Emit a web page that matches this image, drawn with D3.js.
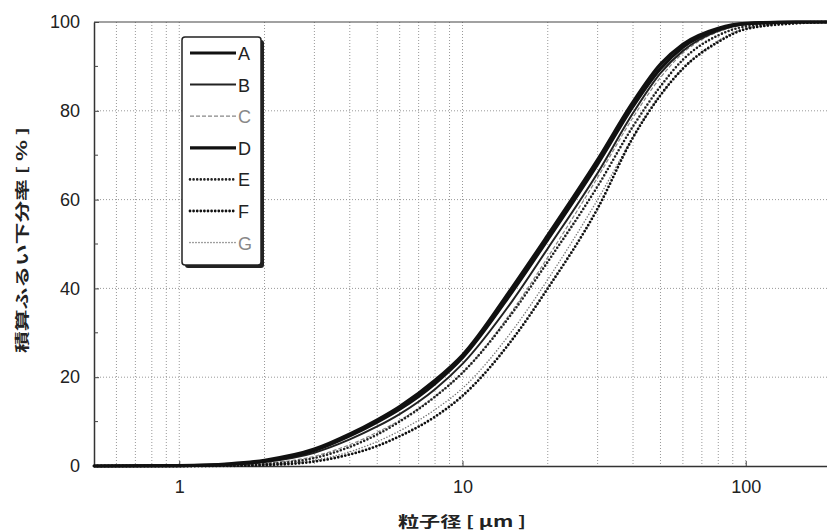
<!DOCTYPE html>
<html>
<head>
<meta charset="utf-8">
<script src="https://cdn.jsdelivr.net/npm/d3@7"></script>
<style>
  body { margin: 0; background: #fff; }
  svg { display: block; font-family: "Liberation Sans", Arial, sans-serif; }
</style>
</head>
<body>
<div id="chart"></div>
<script>
// Particle size (µm) and cumulative undersize (%)
const sizes = [0.5, 1, 1.5, 2, 3, 4, 5, 6, 8, 10, 15, 20, 30, 40, 50, 60, 80, 100, 150, 200];

const seriesA = [0, 0.1, 0.5, 1.3, 3.8, 7.2, 10.4, 13.4, 19.3, 25, 40.3, 52, 69, 82, 90.5, 95, 98.6, 99.7, 100, 100];
const seriesB = [0, 0.1, 0.3, 0.9, 3.0, 6.0, 8.9, 11.7, 17.3, 23, 37.2, 49, 66, 79.5, 88.5, 93.5, 98, 99.5, 100, 100];
const seriesC = [0, 0.05, 0.2, 0.6, 2.2, 4.8, 7.6, 10.3, 15.7, 21, 35, 47, 65, 78.5, 87.5, 93, 97.8, 99.4, 100, 100];
const seriesD = [0, 0.1, 0.4, 1.1, 3.5, 6.8, 9.9, 12.8, 18.6, 24.4, 39.3, 51, 68, 81, 89.5, 94.3, 98.3, 99.6, 100, 100];
const seriesE = [0, 0, 0.1, 0.4, 1.8, 4.3, 7.1, 10.0, 15.6, 21, 34.5, 46, 63, 76.5, 85.5, 91.5, 97, 99, 99.9, 100];
const seriesF = [0, 0, 0.05, 0.2, 1.0, 2.6, 4.5, 6.7, 11.1, 15.8, 28.5, 40, 58, 74, 83.5, 89.5, 95.5, 98.4, 99.7, 100];
const seriesG = [0, 0, 0.1, 0.3, 1.3, 3.2, 5.5, 7.9, 12.7, 17.5, 30.5, 42, 60, 74, 83.5, 89.5, 95.8, 98.6, 99.8, 100];

const seriesNames = ['A', 'B', 'C', 'D', 'E', 'F', 'G'];
const seriesValues = [seriesA, seriesB, seriesC, seriesD, seriesE, seriesF, seriesG];

const xTickValues = [1, 10, 100];
const xGridValues = [0.6, 0.7, 0.8, 0.9, 1, 2, 3, 4, 5, 6, 7, 8, 9, 10, 20, 30, 40, 50, 60, 70, 80, 90, 100, 200];
const yTickValues = [0, 20, 40, 60, 80, 100];
const yMinorValues = [10, 30, 50, 70, 90];

const xTitle = '粒子径 [ μm ]';
const yTitle = '積算ふるい下分率 [ % ]';

// Line styles per series
const styles = {
    A: { color: '#111', width: 3.2, dash: null },
    B: { color: '#222', width: 2, dash: null },
    C: { color: '#888', width: 1.2, dash: '4,2' },
    D: { color: '#111', width: 3.2, dash: null },
    E: { color: '#222', width: 2.6, dash: '0,3.6' },
    F: { color: '#111', width: 2.8, dash: '0,3.6' },
    G: { color: '#777', width: 1.6, dash: '0,3' }
};

const W = 827, H = 532;
const margin = { top: 22, right: -4, bottom: 66, left: 94 };
const width = W - margin.left - margin.right;
const height = H - margin.top - margin.bottom;

const svg = d3.select('#chart').append('svg')
    .attr('width', W)
    .attr('height', H);

const g = svg.append('g')
    .attr('transform', `translate(${margin.left},${margin.top})`);

// Scales
const x = d3.scaleLog().domain([0.5, 200]).range([0, width]);
const y = d3.scaleLinear().domain([0, 100]).range([height, 0]);

// Grid (dotted)
g.append('g').selectAll('line')
    .data(xGridValues)
    .enter().append('line')
    .attr('x1', d => x(d)).attr('x2', d => x(d))
    .attr('y1', 0).attr('y2', height)
    .attr('stroke', '#999')
    .attr('stroke-width', 1)
    .attr('stroke-dasharray', '1,2');

g.append('g').selectAll('line')
    .data(yTickValues.filter(d => d > 0 && d < 100))
    .enter().append('line')
    .attr('x1', 0).attr('x2', width)
    .attr('y1', d => y(d)).attr('y2', d => y(d))
    .attr('stroke', '#999')
    .attr('stroke-width', 1)
    .attr('stroke-dasharray', '1,2');

// Axes
const xAxis = d3.axisBottom(x).tickValues(xTickValues).tickFormat(d3.format('d'))
    .tickSizeInner(-5).tickSizeOuter(0).tickPadding(14);
const yAxis = d3.axisLeft(y).tickValues(yTickValues)
    .tickSizeInner(-5).tickSizeOuter(0).tickPadding(14);

const gx = g.append('g').attr('transform', `translate(0,${height})`).call(xAxis);
const gy = g.append('g').call(yAxis);

g.append('g').selectAll('line')
    .data(yMinorValues)
    .enter().append('line')
    .attr('x1', 0).attr('x2', 4)
    .attr('y1', d => y(d)).attr('y2', d => y(d))
    .attr('stroke', '#444');

// Top frame line
g.append('line')
    .attr('x1', 0).attr('x2', width)
    .attr('y1', 0).attr('y2', 0)
    .attr('stroke', '#444').attr('stroke-width', 1.2);

g.selectAll('.domain').attr('stroke', '#333').attr('stroke-width', 1.5);
g.selectAll('.tick line').attr('stroke', '#444');
g.selectAll('.tick text').attr('fill', '#222').style('font-size', '18px');

// Curves
const line = d3.line()
    .x(d => x(d[0]))
    .y(d => y(d[1]))
    .curve(d3.curveMonotoneX);

const drawOrder = ['G', 'C', 'E', 'F', 'B', 'D', 'A'];
drawOrder.forEach(name => {
    const vals = seriesValues[seriesNames.indexOf(name)];
    const st = styles[name];
    g.append('path')
        .datum(sizes.map((s, i) => [s, vals[i]]))
        .attr('d', line)
        .attr('fill', 'none')
        .attr('stroke', st.color)
        .attr('stroke-width', st.width)
        .attr('stroke-linecap', st.dash && st.dash.startsWith('0') ? 'round' : 'butt')
        .attr('stroke-dasharray', st.dash);
});

// Legend
const lg = svg.append('g').attr('transform', 'translate(182,37)');
lg.append('rect')
    .attr('x', 3).attr('y', 3).attr('width', 79).attr('height', 228)
    .attr('rx', 3).attr('fill', '#222');
lg.append('rect')
    .attr('x', 0).attr('y', 0).attr('width', 79).attr('height', 228)
    .attr('rx', 3).attr('fill', '#fff')
    .attr('stroke', '#222').attr('stroke-width', 1.5);

seriesNames.forEach((name, i) => {
    const st = styles[name];
    const ly = 16 + i * 31.6;
    lg.append('line')
        .attr('x1', 8).attr('x2', 54)
        .attr('y1', ly).attr('y2', ly)
        .attr('stroke', st.color)
        .attr('stroke-width', st.width)
        .attr('stroke-linecap', st.dash && st.dash.startsWith('0') ? 'round' : 'butt')
        .attr('stroke-dasharray', st.dash);
    lg.append('text')
        .attr('x', 56).attr('y', ly + 7)
        .attr('fill', name === 'C' || name === 'G' ? '#888' : '#222')
        .style('font-size', '18px')
        .text(name);
});

// Titles
svg.append('text')
    .attr('x', margin.left + 368).attr('y', 527)
    .attr('text-anchor', 'middle')
    .attr('fill', '#222')
    .attr('textLength', 128)
    .attr('lengthAdjust', 'spacingAndGlyphs')
    .style('font-family', '"Noto Sans CJK JP", sans-serif')
    .style('font-size', '15px').style('font-weight', 'bold')
    .text(xTitle);

svg.append('text')
    .attr('transform', `translate(27,${margin.top + height / 2 - 4}) rotate(-90)`)
    .attr('text-anchor', 'middle')
    .attr('fill', '#222')
    .attr('textLength', 226)
    .attr('lengthAdjust', 'spacingAndGlyphs')
    .style('font-family', '"Noto Sans CJK JP", sans-serif')
    .style('font-size', '14px').style('font-weight', 'bold')
    .text(yTitle);
</script>
</body>
</html>
